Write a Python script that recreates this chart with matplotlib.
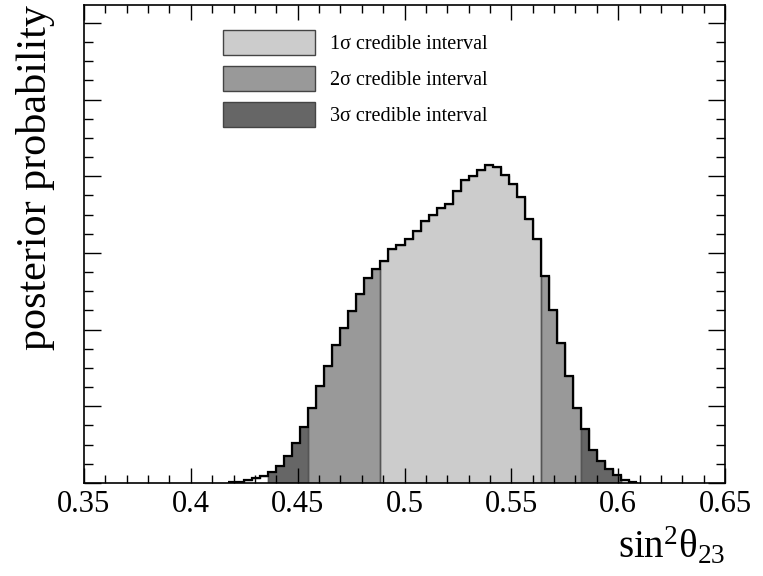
import numpy as np
import matplotlib
matplotlib.use("Agg")
import matplotlib.pyplot as plt
from matplotlib.patches import Patch
from matplotlib.ticker import MultipleLocator, FixedLocator, FixedFormatter

# ---- data ----
bin_lo = 0.35
bin_width = 0.00375
first_bin = 18
posterior = [0.007, 0.007, 0.034, 0.060, 0.091,            # bins 18-22 (outside)
             0.143, 0.226, 0.352, 0.526, 0.730,            # 23-27 (3 sigma)
             0.978, 1.265, 1.526, 1.796, 2.026, 2.247, 2.461, 2.678, 2.791,  # 28-36 (2 sigma)
             2.896, 3.056, 3.108, 3.179, 3.287, 3.417, 3.492, 3.591, 3.643,  # 37-45 (1 sigma)
             3.805, 3.948, 4.004, 4.082, 4.144, 4.125, 4.013, 3.896, 3.726,  # 46-54
             3.447, 3.179,                                  # 55-56
             2.700, 2.260, 1.826, 1.396, 0.982,            # 57-61 (2 sigma)
             0.700, 0.434, 0.291, 0.187, 0.100,            # 62-66 (3 sigma)
             0.043, 0.009]                                  # 67-68 (outside)
# region boundaries as bin indices [start, stop)
regions = [("out", 18, 23), ("3s", 23, 28), ("2s", 28, 37), ("1s", 37, 57),
           ("2s", 57, 62), ("3s", 62, 67), ("out", 67, 69)]
legend_labels = ["1σ credible interval", "2σ credible interval", "3σ credible interval"]
xtick_vals = [0.35, 0.40, 0.45, 0.50, 0.55, 0.60, 0.65]
xtick_labels = ["0.35", "0.4", "0.45", "0.5", "0.55", "0.6", "0.65"]

colors = {"out": "white", "3s": "#666666", "2s": "#999999", "1s": "#cccccc"}

plt.rcParams['font.family'] = ['Liberation Serif', 'DejaVu Serif']
plt.rcParams['mathtext.fontset'] = 'custom'
plt.rcParams['mathtext.rm'] = 'Liberation Serif'
plt.rcParams['mathtext.it'] = 'Liberation Serif:italic'

fig = plt.figure(figsize=(7.63, 5.76), dpi=100)
ax = fig.add_axes([84/763, 93/576, 641/763, 478/576])

vals = np.array(posterior)
edges = bin_lo + bin_width * np.arange(first_bin, first_bin + len(vals) + 1)

for name, a, b in regions:
    i0, i1 = a - first_bin, b - first_bin
    ax.stairs(vals[i0:i1], edges[i0:i1 + 1], fill=True, color=colors[name], zorder=1)
    ax.stairs(vals[i0:i1], edges[i0:i1 + 1], baseline=0, fill=False,
              color="#555555", lw=1.0, zorder=2)
ax.stairs(vals, edges, baseline=None, color="black", lw=1.6, zorder=3)

ax.set_xlim(0.35, 0.65)
ax.set_ylim(0, 6.234)
ax.xaxis.set_major_locator(FixedLocator(xtick_vals))
ax.xaxis.set_major_formatter(FixedFormatter(xtick_labels))
ax.xaxis.set_minor_locator(MultipleLocator(0.01))
ax.yaxis.set_major_locator(MultipleLocator(1.0))
ax.yaxis.set_minor_locator(MultipleLocator(0.25))
ax.set_yticklabels([])
ax.tick_params(axis='both', which='both', direction='in', top=True, right=True, width=1.0)
ax.tick_params(axis='x', which='major', length=11, labelsize=22, pad=5)
ax.tick_params(axis='x', which='minor', length=6)
ax.tick_params(axis='y', which='major', length=12.5, labelleft=False)
ax.tick_params(axis='y', which='minor', length=6.5)
for s in ax.spines.values():
    s.set_linewidth(1.2)

ax.text(-0.0764, 1.0, "posterior probability", transform=ax.transAxes, rotation=90,
        ha='center', va='top', fontsize=30.3)
ax.text(1.0, -0.157, r"$\mathrm{sin}^{2}\mathrm{θ}_{23}$", transform=ax.transAxes,
        ha='right', va='baseline', fontsize=28)

handles = [Patch(facecolor=colors["1s"], edgecolor="#444444", lw=1),
           Patch(facecolor=colors["2s"], edgecolor="#444444", lw=1),
           Patch(facecolor=colors["3s"], edgecolor="#444444", lw=1)]
ax.legend(handles, legend_labels, loc='upper left', bbox_to_anchor=(0.2168, 0.9477),
          frameon=False, fontsize=14.5, handlelength=4.55, handleheight=1.5,
          labelspacing=0.57, handletextpad=0.75, borderpad=0, borderaxespad=0)

fig.savefig("out.png", dpi=100)
